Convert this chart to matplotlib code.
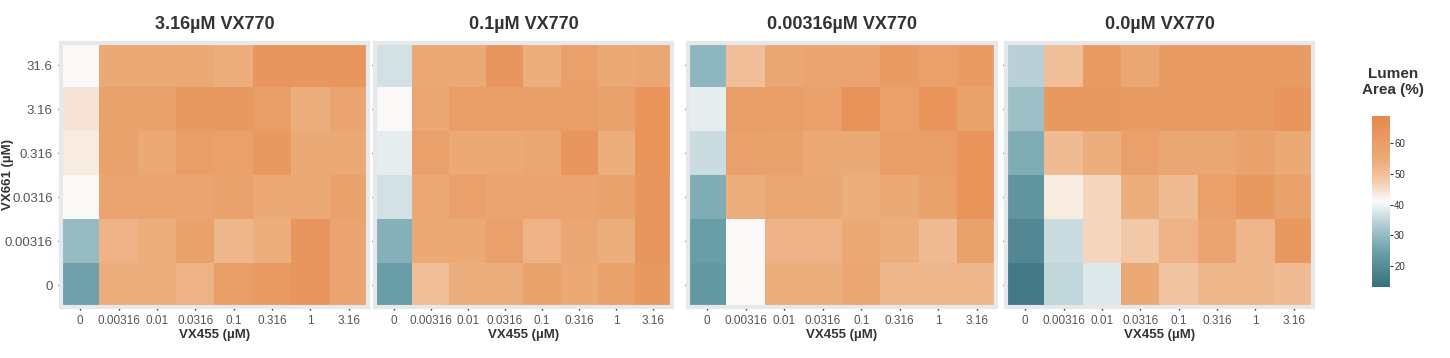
import numpy as np
import matplotlib
matplotlib.use("Agg")
from matplotlib import pyplot as plt
from matplotlib.colors import LinearSegmentedColormap

plt.rcParams['font.family'] = ['Liberation Sans', 'DejaVu Sans']

# data (Lumen area, %)
vx455 = ['0', '0.00316', '0.01', '0.0316', '0.1', '0.316', '1', '3.16']
vx661 = ['31.6', '3.16', '0.316', '0.0316', '0.00316', '0']
titles = ['3.16µM VX770', '0.1µM VX770', '0.00316µM VX770', '0.0µM VX770']

area_316 = [[41, 55, 55, 55, 54, 63, 63, 63],
            [44, 58, 58, 62, 62, 60, 54, 57],
            [43, 58, 55, 60, 59, 62, 55, 55],
            [41, 57, 57, 57, 58, 55, 55, 58],
            [30, 53, 54, 58, 52, 54, 63, 57],
            [25, 54, 54, 53, 60, 61, 63, 57]]
area_01 = [[37, 55, 55, 63, 54, 59, 55, 56],
           [41, 56, 60, 60, 60, 60, 58, 64],
           [39, 59, 55, 55, 56, 63, 54, 64],
           [37, 55, 59, 57, 57, 57, 58, 63],
           [28, 55, 55, 59, 53, 56, 54, 63],
           [24, 50, 54, 54, 58, 55, 58, 62]]
area_000316 = [[29, 50, 56, 57, 57, 61, 59, 61],
               [39, 60, 60, 59, 65, 59, 64, 58],
               [36, 59, 58, 55, 55, 60, 60, 64],
               [27, 54, 56, 56, 54, 55, 58, 64],
               [24, 41, 53, 53, 55, 54, 51, 58],
               [23, 41, 54, 54, 56, 52, 52, 52]]
area_0 = [[34, 50, 61, 56, 61, 61, 61, 61],
          [31, 62, 62, 61, 61, 61, 61, 63],
          [27, 51, 54, 59, 56, 56, 58, 55],
          [22, 43, 46, 54, 51, 59, 62, 58],
          [19, 36, 46, 48, 53, 57, 52, 62],
          [16, 35, 38, 55, 49, 52, 52, 51]]
panels = [area_316, area_01, area_000316, area_0]

vmin, vmax = 13, 69
cmap = LinearSegmentedColormap.from_list('tealorange', [
    (0.0, '#376f7c'), (0.2, '#6a9ea8'), (0.35, '#aac8cf'), (0.5, '#fbfaf9'),
    (0.62, '#f2caab'), (0.75, '#ecaa77'), (1.0, '#e6894c')])

W, H = 1450, 358
fig = plt.figure(figsize=(W / 100, H / 100), dpi=100)

# panel boxes in pixels: left, right
boxes = [(61, 368), (375, 672), (688, 996), (1006, 1313)]
top, bottom = 43, 307

for i, (data, (x0, x1)) in enumerate(zip(panels, boxes)):
    ax = fig.add_axes([x0 / W, (H - bottom) / H, (x1 - x0) / W, (bottom - top) / H])
    arr = np.array(data, dtype=float)
    ax.imshow(arr, cmap=cmap, vmin=vmin, vmax=vmax, aspect='auto',
              interpolation='nearest')
    ax.set_xticks(range(len(vx455)))
    ax.set_xticklabels(vx455, fontsize=8.5, color='#555555')
    ax.set_yticks(range(len(vx661)))
    if i == 0:
        ax.set_yticklabels(vx661, fontsize=9.5, color='#555555')
    else:
        ax.set_yticklabels([])
    ax.tick_params(length=2, width=1, color='#333333', pad=4)
    ax.set_xlabel('VX455 (µM)', fontsize=9.5, fontweight='bold', color='#333333',
                  labelpad=1)
    ax.set_title(titles[i], fontsize=13, fontweight='bold', color='#333333', pad=10)
    for s in ax.spines.values():
        s.set_color('#e6e8eb')
        s.set_linewidth(3)

fig.text(8 / W, (H - 175) / H, 'VX661 (µM)', rotation=90, ha='center', va='center',
         fontsize=9.5, fontweight='bold', color='#333333')

# colorbar
cax = fig.add_axes([1372 / W, (H - 287) / H, 18 / W, (287 - 116) / H])
sm = plt.cm.ScalarMappable(cmap=cmap, norm=plt.Normalize(vmin, vmax))
cb = fig.colorbar(sm, cax=cax)
cb.set_ticks([20, 30, 40, 50, 60])
cb.ax.tick_params(labelsize=7, length=2, width=0.8, pad=1, colors='#333333')
cb.outline.set_visible(False)
fig.text(1393 / W, (H - 82) / H, 'Lumen\nArea (%)', ha='center', va='center',
         fontsize=11, fontweight='bold', color='#333333', linespacing=1.1)

fig.savefig('out.png', dpi=100)
